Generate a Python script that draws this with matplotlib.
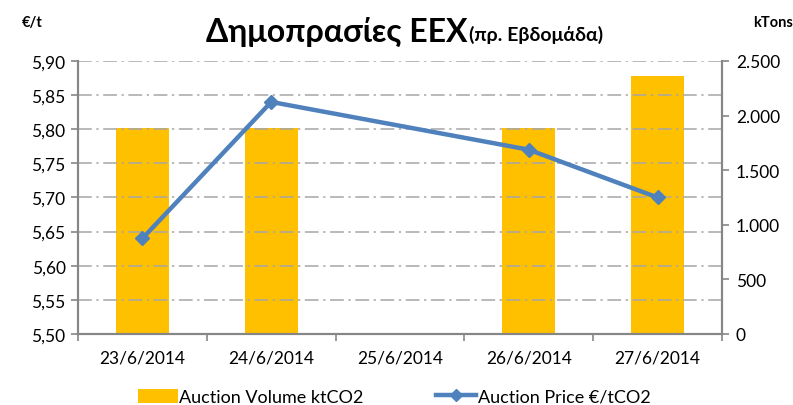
import numpy as np
import matplotlib.pyplot as plt
from matplotlib.lines import Line2D
from matplotlib.patches import Patch

# data
dates = ["23/6/2014", "24/6/2014", "25/6/2014", "26/6/2014", "27/6/2014"]
volume_kt = [1884, 1884, np.nan, 1884, 2360]
price_eur = [5.64, 5.84, np.nan, 5.77, 5.70]

BAR_COLOR = "#FFC000"
LINE_COLOR = "#4F81BD"
AXIS_COLOR = "#868686"
GRID_COLOR = "#A6A6A6"

plt.rcParams["font.family"] = ["Lato", "DejaVu Sans"]

fig = plt.figure(figsize=(7.93, 4.06), dpi=100)
ax_p = fig.add_axes([0.0984, 0.1749, 0.8121, 0.6724])
ax_v = ax_p.twinx()

# bars go on the secondary (right) axis but must sit behind the line
ax_p.set_zorder(ax_v.get_zorder() + 1)
ax_p.patch.set_visible(False)

x = np.arange(len(dates))
ax_v.bar(x, np.nan_to_num(volume_kt), width=0.41, color=BAR_COLOR, zorder=2)

price = np.array(price_eur)
mask = ~np.isnan(price)
ax_p.plot(x[mask], price[mask], color=LINE_COLOR, linewidth=3.2,
          marker="D", markersize=7.5, zorder=3)

ax_p.set_xlim(-0.5, len(dates) - 0.5)
ax_p.set_ylim(5.50, 5.90)
ax_v.set_ylim(0, 2500)

ax_p.set_yticks(np.arange(5.50, 5.901, 0.05))
ax_p.set_yticklabels([f"{v:.2f}".replace(".", ",") for v in np.arange(5.50, 5.901, 0.05)])
ax_v.set_yticks(np.arange(0, 2501, 500))
ax_v.set_yticklabels([f"{v:,}".replace(",", ".") for v in range(0, 2501, 500)])

# category labels in the middle, tick marks on the boundaries
ax_p.set_xticks(x)
ax_p.set_xticklabels(dates)
ax_p.set_xticks(np.arange(-0.5, len(dates), 1.0), minor=True)
ax_p.tick_params(axis="x", which="major", length=0, pad=11, labelsize=12.5)
ax_p.tick_params(axis="x", which="minor", length=5, color=AXIS_COLOR, width=1.2)
ax_p.tick_params(axis="y", length=5, color=AXIS_COLOR, width=1.2, labelsize=12.5, pad=4)
ax_v.tick_params(axis="y", length=5, color=AXIS_COLOR, width=1.2, labelsize=12.5, pad=5)

ax_p.yaxis.grid(True, color=GRID_COLOR, linestyle=(0, (9, 3, 1.5, 3)), linewidth=1.1)
ax_p.set_axisbelow(True)
ax_v.set_axisbelow(True)

for a in (ax_p, ax_v):
    a.spines["top"].set_visible(False)
    for side in ("left", "right", "bottom"):
        a.spines[side].set_color(AXIS_COLOR)
        a.spines[side].set_linewidth(1.5)

fig.text(0.589, 0.922, "Δημοπρασίες EEX", ha="right", va="center",
         fontsize=23, fontweight="bold")
fig.text(0.592, 0.914, "(πρ. Εβδομάδα)", ha="left", va="center",
         fontsize=14, fontweight="bold")
fig.text(0.028, 0.943, "€/t", ha="left", va="center", fontsize=10.5, fontweight="bold")
fig.text(0.950, 0.943, "kTons", ha="left", va="center", fontsize=10.5, fontweight="bold")

handles = [
    Patch(facecolor=BAR_COLOR, edgecolor="none", label="Auction Volume ktCO2"),
    Line2D([0], [0], color=LINE_COLOR, linewidth=3.2, marker="D", markersize=6.5,
           label="Auction Price €/tCO2"),
]
fig.legend(handles=handles, loc="center", bbox_to_anchor=(0.497, 0.02),
           ncol=2, frameon=False, fontsize=13, handlelength=2.2,
           handleheight=0.8, handletextpad=0.1, columnspacing=4.0)

fig.savefig("out.png", dpi=100)
